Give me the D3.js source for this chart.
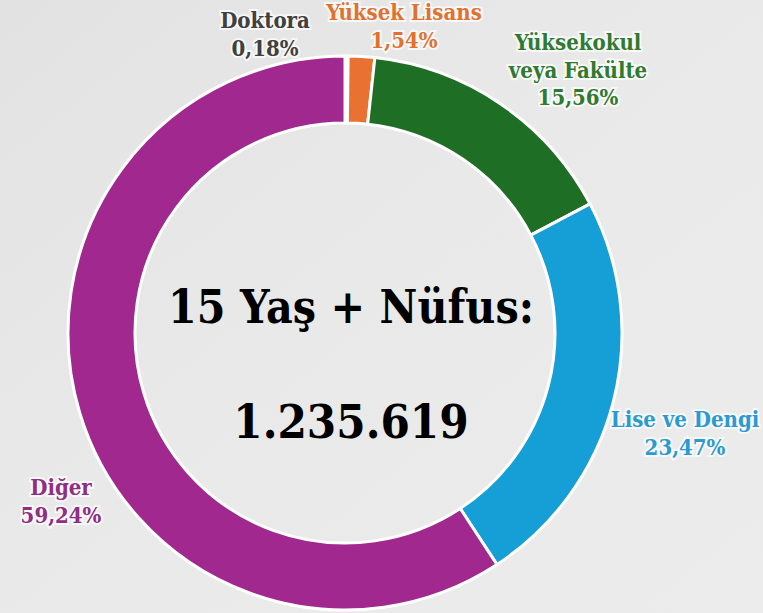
<!DOCTYPE html>
<html>
<head>
<meta charset="utf-8">
<script src="https://cdn.jsdelivr.net/npm/d3@7/dist/d3.min.js"></script>
<style>
  html, body { margin: 0; padding: 0; }
  body { width: 763px; height: 613px; overflow: hidden; }
</style>
</head>
<body>
<div id="chart"></div>
<script>
(function(){
	var w = 763, h = 613;

	// veri
	var categories = ["Doktora", "Yüksek Lisans", "Yüksekokul veya Fakülte", "Lise ve Dengi", "Diğer"];
	var values = [0.18, 1.54, 15.56, 23.47, 59.24];
	var valueLabels = ["0,18%", "1,54%", "15,56%", "23,47%", "59,24%"];
	var nameLines = [["Doktora"], ["Yüksek Lisans"], ["Yüksekokul", "veya Fakülte"], ["Lise ve Dengi"], ["Diğer"]];
	var colors = ["#8c8c8c", "#e97132", "#1f6e25", "#169ed6", "#a0288f"];
	var textColors = ["#404040", "#e0712f", "#2e7a30", "#2a9bd0", "#8e2e84"];
	var titleLines = ["15 Yaş + Nüfus:", "1.235.619"];

	// etiket konumları (sayfaya göre)
	var labelPos = [[265, 28], [404, 20], [578, 50], [685, 427], [61, 495]];

	var cx = 345, cy = 333, rOuter = 277, rInner = 210;
	var font = "'DejaVu Serif Condensed', 'DejaVu Serif', serif";

	var svg = d3.select("#chart")
				.append("svg")
				.attr("width", w)
				.attr("height", h);

	// arka plan
	var defs = svg.append("defs");
	var grad = defs.append("linearGradient")
				.attr("id", "bg")
				.attr("x1", "0").attr("y1", "0")
				.attr("x2", "1").attr("y2", "1");
	grad.append("stop").attr("offset", "0%").attr("stop-color", "#e2e2e2");
	grad.append("stop").attr("offset", "45%").attr("stop-color", "#e9e9e9");
	grad.append("stop").attr("offset", "100%").attr("stop-color", "#ececec");
	svg.append("rect")
		.attr("width", w).attr("height", h)
		.attr("fill", "url(#bg)");

	var pie = d3.pie().sort(null).value(function(d){ return d; });
	var arc = d3.arc().innerRadius(rInner).outerRadius(rOuter);

	var g = svg.append("g").attr("transform", "translate(" + cx + "," + cy + ")");

	g.selectAll("path")
		.data(pie(values))
		.enter()
		.append("path")
		.attr("d", arc)
		.attr("fill", function(d, i){ return colors[i]; })
		.attr("stroke", "#ffffff")
		.attr("stroke-width", 3)
		.attr("stroke-linejoin", "round");

	// orta yazı
	svg.selectAll("text.title")
		.data(titleLines)
		.enter()
		.append("text")
		.attr("class", "title")
		.attr("x", 351)
		.attr("y", function(d, i){ return i == 0 ? 323 : 438; })
		.attr("text-anchor", "middle")
		.attr("font-family", font)
		.attr("font-weight", "bold")
		.attr("font-size", function(d, i){ return i == 0 ? 46 : 47; })
		.attr("fill", "#000000")
		.text(function(d){ return d; });

	// etiketler
	var labels = svg.selectAll("g.label")
		.data(categories)
		.enter()
		.append("g")
		.attr("class", "label");

	labels.each(function(d, i){
		var lines = nameLines[i].concat([valueLabels[i]]);
		var t = d3.select(this).append("text")
			.attr("text-anchor", "middle")
			.attr("font-family", font)
			.attr("font-weight", "bold")
			.attr("font-size", 22)
			.attr("fill", textColors[i])
			.attr("stroke", "#ffffff")
			.attr("stroke-width", 4)
			.attr("stroke-opacity", 0.7)
			.attr("paint-order", "stroke");
		lines.forEach(function(line, k){
			t.append("tspan")
				.attr("x", labelPos[i][0])
				.attr("y", labelPos[i][1] + k * 27.5)
				.text(line);
		});
	});
})();
</script>
</body>
</html>
